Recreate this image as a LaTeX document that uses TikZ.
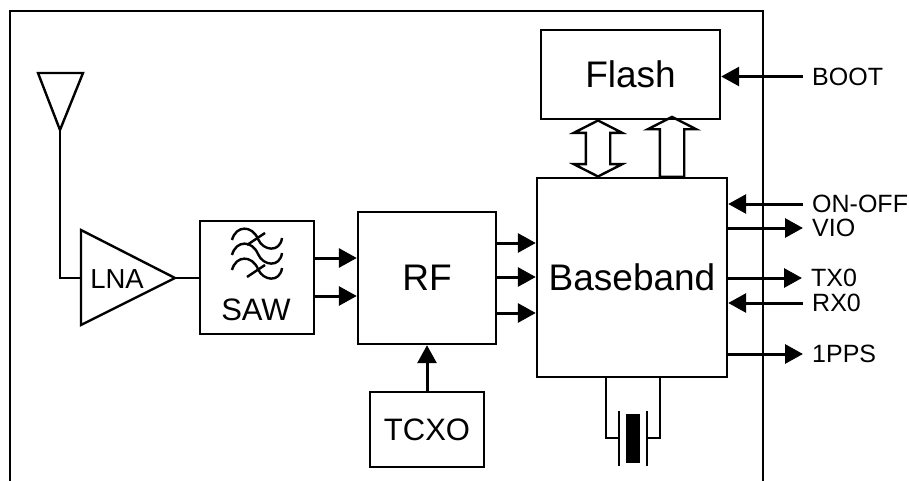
\documentclass[tikz,border=0pt]{standalone}
\usepackage{fontspec}
\setmainfont{Liberation Sans}
\usetikzlibrary{shapes.arrows,arrows.meta,positioning}
\tikzset{block/.style={rectangle,draw,line width=2.4pt,inner sep=0pt},
  biglbl/.style={font=\fontsize{37}{37}\selectfont,inner sep=0pt},
  midlbl/.style={font=\fontsize{31}{31}\selectfont,inner sep=0pt},
  siglbl/.style={font=\fontsize{25}{25}\selectfont,inner sep=0pt,inner xsep=9pt,anchor=west},
  wire/.style={line width=2.4pt},
  sig/.style={line width=3pt,-{Triangle[length=18pt,width=19pt]}},
  busone/.style={single arrow,draw,line width=2.4pt,rotate=90,inner xsep=0pt,inner ysep=11pt,
    minimum height=60pt,minimum width=47pt,single arrow head extend=12pt,single arrow tip angle=126},
  bustwo/.style={double arrow,draw,line width=2.4pt,rotate=90,inner xsep=0pt,inner ysep=11pt,
    minimum height=56pt,minimum width=47pt,double arrow head extend=12pt,double arrow tip angle=126}}

\begin{document}
\begin{tikzpicture}[x=1pt,y=-1pt]
    \useasboundingbox (0,0) rectangle (909,481);
    \draw [line width=2.4pt] (10,481) -- (10,11) -- (763,11) -- (763,481);

    \node[block,minimum width=179pt,minimum height=89pt,biglbl] (flash) at (630.5,74.5) {Flash};
    \node[block,minimum width=190pt,minimum height=199pt,biglbl] (base) at (632,277.5) {Baseband};
    \node[block,minimum width=138pt,minimum height=132pt,biglbl] (rf) at (427,278) {RF};
    \node[block,minimum width=114pt,minimum height=113pt] (saw) at (257,277.5) {};
    \node[midlbl] (sawlbl) at (256,310) {SAW};
    \node[block,minimum width=114pt,minimum height=75pt,midlbl] (tcxo) at (427,429.5) {TCXO};

    % antenna and LNA
    \coordinate (anta) at (38,73);
    \coordinate (antb) at (83,73);
    \coordinate (antc) at (60,130);
    \coordinate (lnaa) at (81,230);
    \coordinate (lnab) at (81,325);
    \coordinate (lnac) at (175,278);
    \coordinate (lnain) at (81,278);
    \draw [wire] (anta) -- (antb) -- (antc) -- cycle;
    \draw [block] (lnaa) -- (lnab) -- (lnac) -- cycle;
    \node[font=\fontsize{27.5}{27.5}\selectfont,inner sep=0pt] (lna) at (117,279) {LNA};
    \draw [wire] (antc) |- (lnain);
    \draw [wire] (lnac) -- (lnac -| saw.west);

    % filter symbol
    \foreach \y in {240,255,270}
        \draw [wire] (232,\y) .. controls (236,\y-15) and (252,\y-15) .. (258,\y-1)
            .. controls (263,\y+11) and (280,\y+13) .. (282,\y-2);
    \draw [wire] (247,245) -- (265,233);
    \draw [wire] (247,277) -- (265,265);

    \draw [sig] ([yshift=-18.5pt]saw.east) -- ([yshift=-18.5pt]saw.east -| rf.west);
    \draw [sig] ([yshift=19.5pt]saw.east) -- ([yshift=19.5pt]saw.east -| rf.west);
    \draw [sig] ([yshift=-35pt]rf.east) -- ([yshift=-35pt]rf.east -| base.west);
    \draw [sig] ([yshift=1pt]rf.east) -- ([yshift=1pt]rf.east -| base.west);
    \draw [sig] ([yshift=35pt]rf.east) -- ([yshift=35pt]rf.east -| base.west);
    \draw [sig] (tcxo.north) -- (rf.south);

    % signals on the right
    \node[siglbl] (boot) at (803,76.5) {BOOT};
    \node[siglbl] (onoff) at (803,204) {ON-OFF};
    \node[siglbl] (vio) at (803,228) {VIO};
    \node[siglbl] (txo) at (802,278) {TX0};
    \node[siglbl] (rxo) at (803,303) {RX0};
    \node[siglbl] (pps) at (803,354) {1PPS};
    \draw [sig] (boot.west) -- (boot.west -| flash.east);
    \draw [sig] (onoff.west) -- (onoff.west -| base.east);
    \draw [sig] (vio.west -| base.east) -- (vio.west);
    \draw [sig] (txo.west -| base.east) -- (txo.west);
    \draw [sig] (rxo.west) -- (rxo.west -| base.east);
    \draw [sig] (pps.west -| base.east) -- (pps.west);

    % buses
    \node[bustwo] (busa) at (598,148.5) {};
    \node[busone] (busb) at (672,150) {};

    % crystal
    \node[rectangle,fill=black,minimum width=14pt,minimum height=49pt,inner sep=0pt] (xtal) at (633,438.5) {};
    \draw [wire] (619,411) -- (619,466);
    \draw [wire] (647,411) -- (647,466);
    \draw [wire] (base.south -| 606,0) |- (619,438);
    \draw [wire] (base.south -| 660,0) |- (647,438);
\end{tikzpicture}
\end{document}
